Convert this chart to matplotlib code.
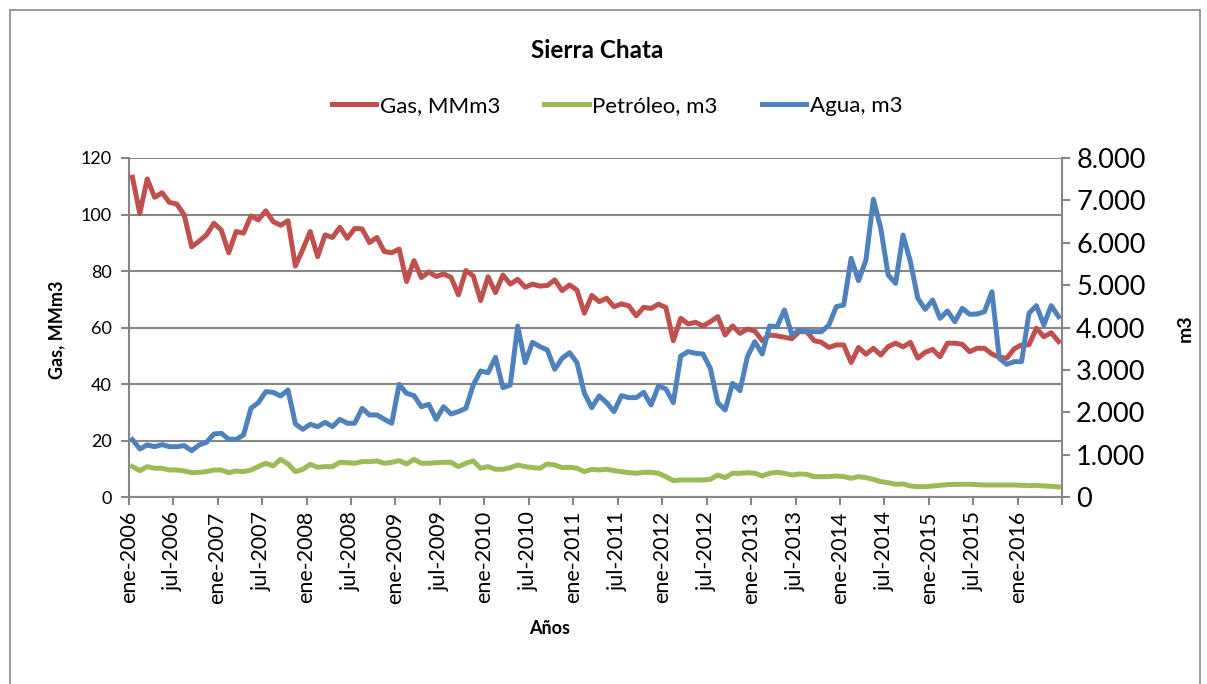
import matplotlib
matplotlib.use("Agg")
import matplotlib.pyplot as plt
from matplotlib.patches import Rectangle
from matplotlib.ticker import FuncFormatter

plt.rcParams['font.family'] = ['Lato', 'DejaVu Sans']

months_es = ["ene", "feb", "mar", "abr", "may", "jun", "jul", "ago", "sep", "oct", "nov", "dic"]
tick_labels = [f"{months_es[m]}-{y}" for y in range(2006, 2017) for m in (0, 6)][:21]

gas = [113.2, 100.4, 112.6, 106.1, 107.7, 104.3, 103.7, 99.8, 88.6, 90.6,
       92.8, 96.9, 94.5, 86.5, 94.0, 93.4, 99.5, 98.1, 101.3, 97.5,
       96.2, 97.8, 81.8, 87.7, 94.0, 85.1, 92.8, 91.9, 95.5, 91.6,
       95.1, 94.9, 90.1, 91.9, 86.9, 86.5, 87.8, 76.3, 83.7, 77.7,
       79.7, 78.1, 79.0, 77.8, 71.6, 80.2, 78.3, 69.6, 78.0, 72.4,
       78.6, 75.4, 77.1, 74.3, 75.4, 74.7, 74.9, 76.9, 73.1, 75.1,
       73.3, 65.1, 71.4, 69.2, 70.4, 67.4, 68.4, 67.7, 64.2, 67.2,
       66.8, 68.3, 67.1, 55.4, 63.3, 61.3, 61.9, 60.6, 62.1, 63.9,
       57.4, 60.6, 58.0, 59.5, 58.8, 55.4, 57.4, 57.1, 56.6, 56.1,
       58.6, 58.6, 55.4, 54.8, 53.0, 53.9, 53.9, 47.7, 53.0, 50.6,
       52.7, 50.3, 53.3, 54.5, 53.2, 54.8, 49.2, 51.3, 52.3, 49.7,
       54.5, 54.5, 54.1, 51.5, 52.7, 52.7, 50.7, 49.5, 49.2, 52.5,
       53.9, 53.9, 59.8, 56.8, 58.2, 55.1]

petroleo = [723, 629, 723, 684, 684, 644, 644, 621, 581, 589,
            605, 644, 644, 581, 621, 605, 644, 723, 802, 739,
            896, 786, 605, 660, 778, 707, 723, 723, 825, 817,
            802, 841, 841, 857, 802, 825, 864, 786, 896, 802,
            802, 817, 825, 825, 723, 802, 857, 684, 723, 660,
            660, 699, 762, 723, 699, 684, 786, 762, 699, 707,
            684, 605, 660, 644, 660, 629, 605, 581, 566, 589,
            589, 566, 487, 393, 409, 409, 409, 409, 424, 526,
            464, 566, 566, 581, 566, 503, 566, 589, 566, 526,
            550, 542, 487, 487, 487, 503, 487, 448, 487, 464,
            424, 369, 346, 306, 314, 267, 251, 251, 267, 283,
            299, 306, 306, 306, 299, 291, 291, 291, 291, 291,
            283, 275, 283, 267, 259, 244]

agua = [1360, 1140, 1234, 1194, 1242, 1194, 1194, 1218, 1100, 1234,
        1297, 1493, 1509, 1367, 1367, 1469, 2098, 2232, 2491, 2475,
        2389, 2530, 1729, 1603, 1721, 1666, 1768, 1666, 1839, 1745,
        1745, 2098, 1941, 1941, 1839, 1745, 2664, 2452, 2397, 2137,
        2192, 1839, 2137, 1965, 2020, 2098, 2648, 2978, 2939, 3300,
        2585, 2648, 4039, 3175, 3654, 3552, 3473, 3018, 3277, 3410,
        3175, 2452, 2114, 2389, 2232, 2020, 2397, 2350, 2350, 2475,
        2177, 2625, 2554, 2232, 3332, 3434, 3395, 3379, 3041, 2232,
        2059, 2687, 2515, 3316, 3670, 3379, 4039, 4023, 4416, 3827,
        3945, 3905, 3905, 3905, 4062, 4495, 4534, 5634, 5108, 5595,
        7025, 6341, 5241, 5045, 6184, 5556, 4691, 4432, 4652, 4220,
        4393, 4141, 4455, 4314, 4322, 4377, 4848, 3277, 3135, 3198,
        3198, 4338, 4518, 4063, 4518, 4259]

RED, GREEN, BLUE = "#C0504D", "#9BBB59", "#4F81BD"
GRID = "#868686"

W, H = 1207, 684
fig = plt.figure(figsize=(W / 100, H / 100), dpi=100)
L, R, T, B = 128.7, 1062.3, 158.0, 497.3
ax = fig.add_axes([L / W, 1 - B / H, (R - L) / W, (B - T) / H])
ax2 = ax.twinx()

x = [i + 0.5 for i in range(len(gas))]
lw = 3.6
l1, = ax.plot(x, gas, color=RED, lw=lw, solid_joinstyle='round', zorder=3)
l2, = ax2.plot(x, petroleo, color=GREEN, lw=lw, solid_joinstyle='round', zorder=3)
l3, = ax2.plot(x, agua, color=BLUE, lw=lw, solid_joinstyle='round', zorder=3)

n = len(gas)
ax.set_xlim(0, n)
ax.set_ylim(0, 120)
ax2.set_ylim(0, 8000)
ax.set_yticks(range(0, 121, 20))
ax2.set_yticks(range(0, 8001, 1000))
ax2.yaxis.set_major_formatter(FuncFormatter(lambda v, p: f"{int(v):,}".replace(",", ".")))

xt = list(range(0, n + 1, 6))
ax.set_xticks(xt)
ax.set_xticklabels(tick_labels + [""] * (len(xt) - len(tick_labels)), rotation=90)

ax.grid(axis='y', color=GRID, lw=1.5)
ax.set_axisbelow(True)
for a in (ax, ax2):
    for s in a.spines.values():
        s.set_visible(False)
    a.patch.set_visible(False)
ax.spines['left'].set_visible(True)
ax.spines['bottom'].set_visible(True)
ax2.spines['right'].set_visible(True)
for s in (ax.spines['left'], ax.spines['bottom'], ax2.spines['right']):
    s.set_color(GRID)
    s.set_linewidth(1.5)

ax.tick_params(axis='y', direction='out', length=6, width=1.5, color=GRID, labelsize=13, pad=6)
ax.tick_params(axis='x', direction='out', length=6, width=1.5, color=GRID, labelsize=15.5, pad=4)
ax2.tick_params(axis='y', direction='out', length=6, width=1.5, color=GRID, labelsize=19.5, pad=4)

fig.text(597 / W, 1 - 51 / H, "Sierra Chata", ha='center', va='center', fontsize=17.5, fontweight='bold')
fig.text(57 / W, 1 - 330 / H, "Gas, MMm3", ha='center', va='center', rotation=90, fontsize=13, fontweight='bold')
fig.text(1185 / W, 1 - 328 / H, "m3", ha='center', va='center', rotation=90, fontsize=14, fontweight='bold')
fig.text(550 / W, 1 - 628 / H, "Años", ha='center', va='center', fontsize=13, fontweight='bold')

fig.legend([l1, l2, l3], ["Gas, MMm3", "Petróleo, m3", "Agua, m3"], loc='center',
           bbox_to_anchor=(617 / W, 1 - 106 / H), ncol=3, frameon=False, fontsize=16,
           handlelength=2.0, handletextpad=0.15, columnspacing=2.0)

fig.patches.append(Rectangle((10 / W, -0.1), 1190 / W, 1.1 - 10 / H, transform=fig.transFigure,
                             fill=False, edgecolor=GRID, lw=1.2))

fig.savefig("out.png", dpi=100)
